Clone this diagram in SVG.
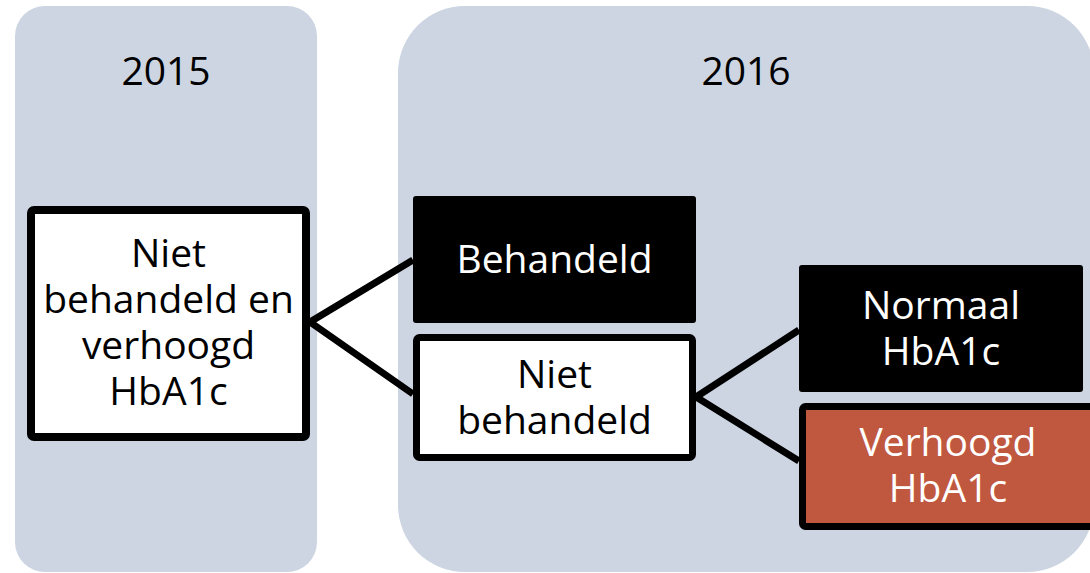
<svg xmlns="http://www.w3.org/2000/svg" width="1090" height="573" viewBox="0 0 1090 573">
<style>
.panel{fill:#CDD5E2}
.lbl{font-family:"Open Sans","Noto Sans","DejaVu Sans",sans-serif;font-size:39px;text-anchor:middle}
.dark{fill:#000}
.light{fill:#fff}
.conn{stroke:#000;stroke-width:7;fill:none;stroke-linecap:butt}
</style>
<rect width="1090" height="573" fill="#fff"/>
<g id="panel-2015">
<rect class="panel" x="15" y="6" width="302" height="566" rx="30"/>
<text class="lbl dark" x="166" y="85">2015</text>
</g>
<g id="panel-2016">
<rect class="panel" x="398" y="6" width="696" height="566" rx="67"/>
<text class="lbl dark" x="746" y="85">2016</text>
</g>
<g id="connectors">
<polyline class="conn" points="413,260 310,322 413,394"/>
<polyline class="conn" points="799,330 696,397 799,461"/>
</g>
<g id="node-start">
<rect x="31" y="210" width="275" height="227" rx="3" fill="#fff" stroke="#000" stroke-width="8"/>
<text class="lbl dark"><tspan x="168.5" y="267">Niet</tspan><tspan x="168.5" y="313">behandeld en</tspan><tspan x="168.5" y="359">verhoogd</tspan><tspan x="168.5" y="405">HbA1c</tspan></text>
</g>
<g id="node-behandeld">
<rect x="413" y="196" width="283" height="127" rx="3" fill="#000"/>
<text class="lbl light" x="554.5" y="273">Behandeld</text>
</g>
<g id="node-niet-behandeld">
<rect x="416.5" y="337.5" width="276" height="120" rx="3" fill="#fff" stroke="#000" stroke-width="7"/>
<text class="lbl dark"><tspan x="554.5" y="388">Niet</tspan><tspan x="554.5" y="434">behandeld</tspan></text>
</g>
<g id="node-normaal">
<rect x="799" y="265" width="284" height="127" rx="3" fill="#000"/>
<text class="lbl light"><tspan x="941" y="319">Normaal</tspan><tspan x="941" y="365">HbA1c</tspan></text>
</g>
<g id="node-verhoogd">
<rect x="802.5" y="406.5" width="291" height="120" rx="3" fill="#C0573F" stroke="#000" stroke-width="7"/>
<text class="lbl light"><tspan x="948" y="456">Verhoogd</tspan><tspan x="948" y="502">HbA1c</tspan></text>
</g>
</svg>
